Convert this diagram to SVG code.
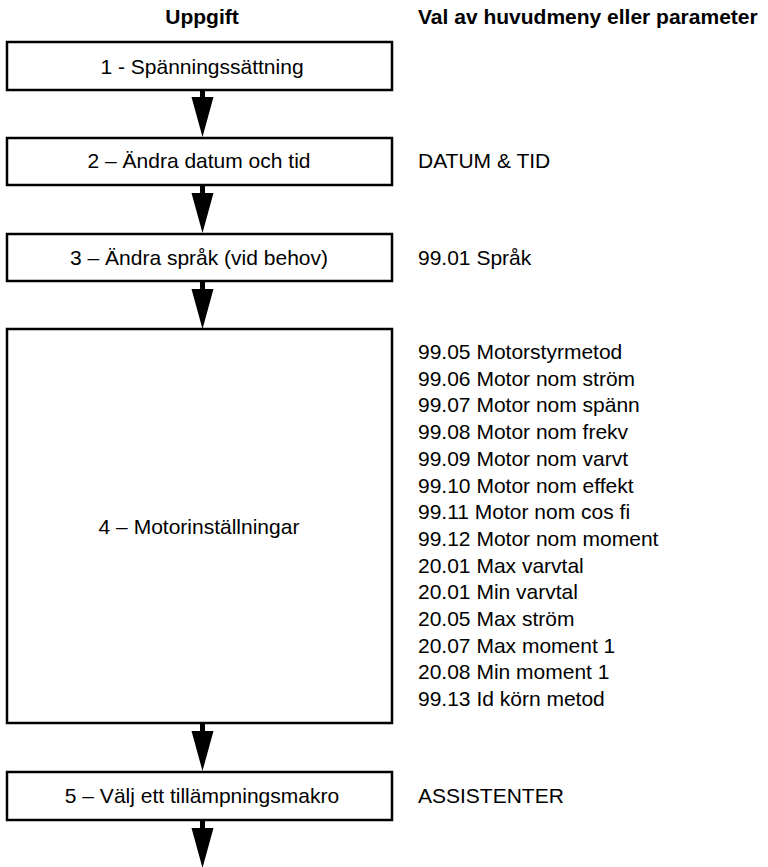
<svg xmlns="http://www.w3.org/2000/svg" width="768" height="867" viewBox="0 0 768 867">
<style>
  text { font-family: "Liberation Sans", Arial, sans-serif; font-size: 21px; fill: #000; }
  .hdr { font-weight: bold; }
  .mid { text-anchor: middle; }
  .box { fill: #fff; stroke: #000; stroke-width: 2.5; }
  .arrow { fill: #000; stroke: none; }
</style>
<defs>
  <path id="arr" d="M -2.5 0 L 2.5 0 L 2.5 8 L 11 8 L 0 48 L -11 8 L -2.5 8 Z"/>
</defs>
<rect width="768" height="867" fill="#fff"/>
<g id="headers">
  <text class="hdr mid" x="202" y="24">Uppgift</text>
  <text class="hdr" x="418" y="24">Val av huvudmeny eller parameter</text>
</g>
<g id="connectors">
  <use href="#arr" class="arrow" x="202.5" y="89"/>
  <use href="#arr" class="arrow" x="202.5" y="185"/>
  <use href="#arr" class="arrow" x="202.5" y="281"/>
  <use href="#arr" class="arrow" x="202.5" y="723"/>
  <use href="#arr" class="arrow" x="202.5" y="820"/>
</g>
<g id="step1">
  <rect class="box" x="7" y="42" width="385" height="48"/>
  <text class="mid" x="202" y="74">1 - Spänningssättning</text>
</g>
<g id="step2">
  <rect class="box" x="7" y="138" width="385" height="47"/>
  <text class="mid" x="199" y="168">2 – Ändra datum och tid</text>
  <text x="418" y="168">DATUM &amp; TID</text>
</g>
<g id="step3">
  <rect class="box" x="7" y="234" width="385" height="47"/>
  <text class="mid" x="199" y="265">3 – Ändra språk (vid behov)</text>
  <text x="418" y="265">99.01 Språk</text>
</g>
<g id="step4">
  <rect class="box" x="7" y="329" width="385" height="394"/>
  <text class="mid" x="199" y="534">4 – Motorinställningar</text>
  <text x="418" y="359">99.05 Motorstyrmetod</text>
  <text x="418" y="385.7">99.06 Motor nom ström</text>
  <text x="418" y="412.4">99.07 Motor nom spänn</text>
  <text x="418" y="439.1">99.08 Motor nom frekv</text>
  <text x="418" y="465.8">99.09 Motor nom varvt</text>
  <text x="418" y="492.5">99.10 Motor nom effekt</text>
  <text x="418" y="519.2">99.11 Motor nom cos fi</text>
  <text x="418" y="545.9">99.12 Motor nom moment</text>
  <text x="418" y="572.6">20.01 Max varvtal</text>
  <text x="418" y="599.3">20.01 Min varvtal</text>
  <text x="418" y="626">20.05 Max ström</text>
  <text x="418" y="652.7">20.07 Max moment 1</text>
  <text x="418" y="679.4">20.08 Min moment 1</text>
  <text x="418" y="706.1">99.13 Id körn metod</text>
</g>
<g id="step5">
  <rect class="box" x="7" y="772" width="385" height="48"/>
  <text class="mid" x="202" y="803">5 – Välj ett tillämpningsmakro</text>
  <text x="418" y="803">ASSISTENTER</text>
</g>
</svg>
